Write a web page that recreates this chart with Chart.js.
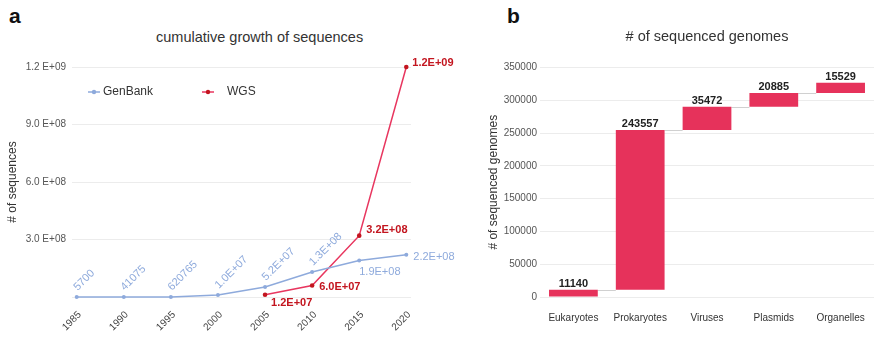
<!DOCTYPE html>
<html>
<head>
<meta charset="utf-8">
<script src="https://cdn.jsdelivr.net/npm/chart.js@4.4.0/dist/chart.umd.min.js"></script>
<style>
  html, body { margin: 0; padding: 0; background: #fff; }
  body { width: 874px; height: 338px; position: relative; overflow: hidden; font-family: "Liberation Sans", Arial, sans-serif; }
  .panel { position: absolute; font-weight: bold; font-size: 21px; line-height: 24px; color: #111; }
  .title { position: absolute; font-size: 14.5px; line-height: 18px; color: #333; text-align: center; white-space: nowrap; }
  canvas { position: absolute; top: 0; }
</style>
</head>
<body>
<div class="panel" style="left:9px; top:4px;">a</div>
<div class="panel" style="left:507px; top:4px;">b</div>
<div class="title" style="left:156px; width:200px; top:28px;">cumulative growth of sequences</div>
<canvas id="growthChart" width="512" height="338" style="left:0"></canvas>
<canvas id="genomeChart" width="404" height="338" style="left:470px"></canvas>
<script>
// ---- panel a: cumulative growth of sequences ----
const years = [1985, 1990, 1995, 2000, 2005, 2010, 2015, 2020];
const genbank = [5700, 41075, 620765, 1.0e7, 5.2e7, 1.3e8, 1.9e8, 2.2e8];
const wgs = [null, null, null, null, 1.2e7, 6.0e7, 3.2e8, 1.2e9];
const seqTicks = [0, 3e8, 6e8, 9e8, 1.2e9];

// ---- panel b: # of sequenced genomes ----
const genomeCats = ["Eukaryotes", "Prokaryotes", "Viruses", "Plasmids", "Organelles"];
const genomeCounts = [11140, 243557, 35472, 20885, 15529];
const genomeTicks = [0, 50000, 100000, 150000, 200000, 250000, 300000, 350000];

const FONT = '"Liberation Sans", Arial, sans-serif';
const BLUE = "#8eaadc";
const RED_LINE = "#e8365f";
const RED_DARK = "#c3151f";
const BAR = "#e6325b";

// 1.2E+09 style numbers
const sci = (v, sep) => {
  const e = Math.floor(Math.log10(v));
  const m = v / Math.pow(10, e);
  return m.toFixed(1) + sep + "E+" + String(e).padStart(2, "0");
};

// ==============================
// value labels + legend for panel a
// ==============================
const growthLabels = {
  id: "growthLabels",
  afterDatasetsDraw(chart) {
    const c = chart.ctx;
    const area = chart.chartArea;
    c.save();

    // GenBank labels
    const gMeta = chart.getDatasetMeta(0);
    c.font = "11px " + FONT;
    c.fillStyle = BLUE;
    gMeta.data.forEach((pt, i) => {
      const v = genbank[i];
      const txt = v >= 1e7 ? sci(v, "") : String(v);
      if (i < genbank.length - 2) {
        c.save();
        c.translate(pt.x + 1, pt.y - 6);
        c.rotate(-Math.PI / 4);
        c.textAlign = "left";
        c.textBaseline = "alphabetic";
        c.fillText(txt, 0, 0);
        c.restore();
      } else if (i === genbank.length - 2) {
        c.textAlign = "left";
        c.textBaseline = "middle";
        c.fillText(txt, pt.x, pt.y + 11);
      } else {
        c.textAlign = "left";
        c.textBaseline = "middle";
        c.fillText(txt, pt.x + 7, pt.y + 2);
      }
    });

    // WGS labels
    const wMeta = chart.getDatasetMeta(1);
    c.font = "bold 11px " + FONT;
    c.fillStyle = RED_DARK;
    c.textAlign = "left";
    c.textBaseline = "middle";
    const first = wgs.findIndex(v => v !== null);
    wMeta.data.forEach((pt, i) => {
      const v = wgs[i];
      if (v === null) return;
      let dx = 7, dy = 1;
      if (i === first) { dx = 6; dy = 8; }
      else if (i === wgs.length - 2) { dy = -6; }
      else if (i === wgs.length - 1) { dx = 6; dy = -4; }
      c.fillText(sci(v, ""), pt.x + dx, pt.y + dy);
    });

    // legend
    const ly = area.top + 25;
    const drawKey = (x, color, dot, label) => {
      c.strokeStyle = color;
      c.lineWidth = 1.5;
      c.beginPath();
      c.moveTo(x, ly);
      c.lineTo(x + 12, ly);
      c.stroke();
      c.fillStyle = dot;
      c.beginPath();
      c.arc(x + 6, ly, 2.2, 0, Math.PI * 2);
      c.fill();
      c.fillStyle = "#333";
      c.font = "12px " + FONT;
      c.textBaseline = "middle";
      c.fillText(label, x + (label === "WGS" ? 25 : 15), ly);
    };
    drawKey(area.left + 16, BLUE, BLUE, "GenBank");
    drawKey(area.left + 130, RED_LINE, RED_DARK, "WGS");
    c.restore();
  }
};

new Chart(document.getElementById("growthChart"), {
  type: "line",
  data: {
    datasets: [
      {
        label: "GenBank",
        data: years.map((y, i) => ({ x: y, y: genbank[i] })),
        borderColor: BLUE,
        backgroundColor: BLUE,
        borderWidth: 1.5,
        pointRadius: 2,
        pointBackgroundColor: BLUE,
        pointBorderWidth: 0,
        tension: 0,
        clip: false
      },
      {
        label: "WGS",
        data: years.map((y, i) => ({ x: y, y: wgs[i] })),
        borderColor: RED_LINE,
        backgroundColor: RED_DARK,
        borderWidth: 1.5,
        pointRadius: 2.3,
        pointBackgroundColor: RED_DARK,
        pointBorderWidth: 0,
        tension: 0,
        spanGaps: false,
        clip: false
      }
    ]
  },
  options: {
    responsive: false,
    animation: false,
    layout: { padding: { left: 0, right: 101, top: 67, bottom: 0 } },
    plugins: {
      legend: { display: false },
      tooltip: { enabled: false }
    },
    scales: {
      x: {
        type: "linear",
        min: 1984.5,
        max: 2020.5,
        afterBuildTicks: s => { s.ticks = years.map(v => ({ value: v })); },
        afterFit: s => { s.height = 41; },
        grid: { display: false },
        border: { display: false },
        ticks: {
          callback: v => String(v),
          minRotation: 45,
          maxRotation: 45,
          padding: 4,
          labelOffset: 3,
          color: "#444",
          font: { family: FONT, size: 10 }
        }
      },
      y: {
        min: 0,
        max: 1.2e9,
        afterBuildTicks: s => { s.ticks = seqTicks.map(v => ({ value: v })); },
        afterFit: s => { s.width = 72; },
        grid: { color: "#ececec", drawTicks: false },
        border: { display: false },
        ticks: {
          callback: v => (v === 0 ? "" : sci(v, " ")),
          padding: 6,
          color: "#555",
          font: { family: FONT, size: 10 }
        },
        title: {
          display: true,
          text: "# of sequences",
          color: "#333",
          font: { family: FONT, size: 12 },
          padding: { top: 5, bottom: 0 }
        }
      }
    }
  },
  plugins: [growthLabels]
});

// ==============================
// panel b: waterfall bars
// ==============================
let running = 0;
const genomeBars = genomeCounts.map(v => {
  const bar = [running, running + v];
  running += v;
  return bar;
});

const genomeLabels = {
  id: "genomeLabels",
  beforeDatasetsDraw(chart) {
    const c = chart.ctx;
    const bars = chart.getDatasetMeta(0).data;
    c.save();
    c.strokeStyle = "#d0d0d0";
    c.lineWidth = 1;
    for (let i = 0; i < bars.length - 1; i++) {
      const a = bars[i], b = bars[i + 1];
      const y = Math.round(a.y) + 0.5;
      c.beginPath();
      c.moveTo(a.x + a.width / 2, y);
      c.lineTo(b.x - b.width / 2, y);
      c.stroke();
    }
    c.restore();
  },
  afterDatasetsDraw(chart) {
    const c = chart.ctx;
    const bars = chart.getDatasetMeta(0).data;
    c.save();
    c.font = "bold 11px " + FONT;
    c.fillStyle = "#222";
    c.textAlign = "center";
    c.textBaseline = "alphabetic";
    bars.forEach((el, i) => {
      c.fillText(String(genomeCounts[i]), el.x, el.y - 2.5);
    });
    c.restore();
  }
};

new Chart(document.getElementById("genomeChart"), {
  type: "bar",
  data: {
    labels: genomeCats,
    datasets: [{
      label: "# of sequenced genomes",
      data: genomeBars,
      backgroundColor: BAR,
      borderWidth: 0,
      borderSkipped: false,
      barPercentage: 0.73,
      categoryPercentage: 1
    }]
  },
  options: {
    responsive: false,
    animation: false,
    layout: { padding: { left: 0, right: 0, top: 0, bottom: 0 } },
    plugins: {
      legend: { display: false },
      tooltip: { enabled: false },
      title: {
        display: true,
        fullSize: false,
        text: "# of sequenced genomes",
        color: "#333",
        font: { family: FONT, size: 14.5, weight: "normal" },
        padding: { top: 28, bottom: 22 }
      }
    },
    scales: {
      x: {
        afterFit: s => { s.height = 41; },
        grid: { display: false },
        border: { display: false },
        ticks: {
          padding: 7,
          color: "#333",
          font: { family: FONT, size: 10 }
        }
      },
      y: {
        min: 0,
        max: 350000,
        afterBuildTicks: s => { s.ticks = genomeTicks.map(v => ({ value: v })); },
        afterFit: s => { s.width = 70; },
        grid: { color: "#ececec", drawTicks: false },
        border: { display: false },
        ticks: {
          callback: v => String(v),
          padding: 3,
          color: "#555",
          font: { family: FONT, size: 10 }
        },
        title: {
          display: true,
          text: "# of sequenced genomes",
          color: "#333",
          font: { family: FONT, size: 12 },
          padding: { top: 16, bottom: 0 }
        }
      }
    }
  },
  plugins: [genomeLabels]
});
</script>
</body>
</html>
